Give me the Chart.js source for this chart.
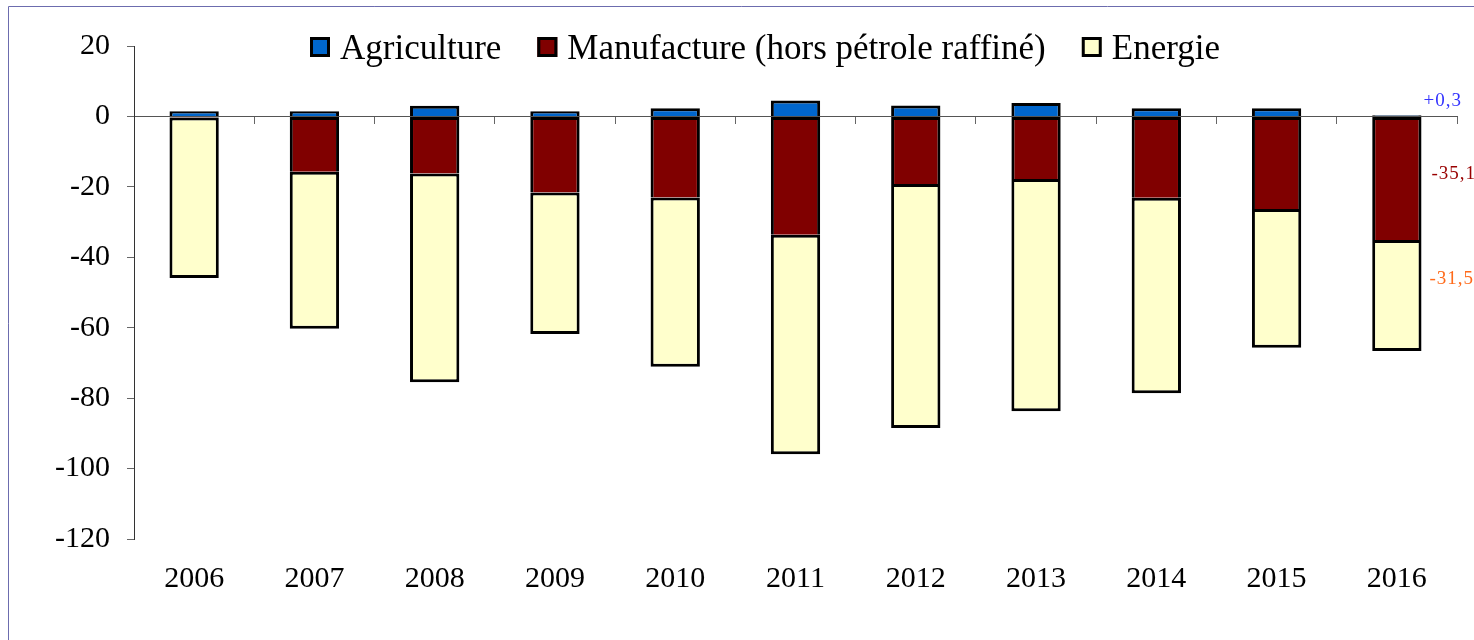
<!DOCTYPE html>
<html>
<head>
<meta charset="utf-8">
<script src="https://cdn.jsdelivr.net/npm/chart.js@4.4.1/dist/chart.umd.min.js"></script>
<style>
  html, body { margin: 0; padding: 0; background: #fff; }
  #wrap { width: 1474px; height: 640px; }
</style>
</head>
<body>
<div id="wrap"><canvas id="chart" width="1474" height="640"></canvas></div>
<script>
// values
var years = ['2006', '2007', '2008', '2009', '2010', '2011', '2012', '2013', '2014', '2015', '2016'];
var agriculture = [1.5, 1.5, 3.0, 1.5, 2.3, 4.5, 3.1, 3.8, 2.3, 2.3, 0.3];
var manufacture = [-0.3, -15.7, -16.2, -21.6, -23.0, -33.6, -19.2, -17.8, -23.1, -26.3, -35.1];
var energie = [-45.6, -44.6, -59.3, -40.2, -48.1, -62.3, -69.3, -65.9, -55.5, -39.4, -31.5];
var yTicks = [20, 0, -20, -40, -60, -80, -100, -120];

var seriesNames = ['Agriculture', 'Manufacture (hors pétrole raffiné)', 'Energie'];
var seriesColors = ['#0066cc', '#800000', '#ffffcc'];
var endLabelColors = ['#3333ff', '#990000', '#ff6a1a'];

var serif = '"Liberation Serif", "Times New Roman", serif';

function fmt(v) {
    var s = Math.abs(v).toFixed(1).replace('.', ',');
    return (v < 0 ? '-' : '+') + s;
}

// frame, legend and the values written right of the last bar
var extras = {
    id: 'extras',
    afterDraw: function(chart) {
        var ctx = chart.ctx;
        ctx.save();

        ctx.strokeStyle = '#6c6cae';
        ctx.lineWidth = 1;
        ctx.beginPath();
        ctx.moveTo(8.5, chart.height);
        ctx.lineTo(8.5, 6.5);
        ctx.lineTo(chart.width, 6.5);
        ctx.stroke();

        ctx.font = '35px ' + serif;
        ctx.textAlign = 'left';
        ctx.textBaseline = 'alphabetic';
        var x = 310;
        chart.data.datasets.forEach(function(ds) {
            ctx.fillStyle = ds.backgroundColor;
            ctx.fillRect(x, 37, 20, 20);
            ctx.lineWidth = 3;
            ctx.strokeStyle = '#000';
            ctx.strokeRect(x + 1.5, 38.5, 17, 17);
            ctx.fillStyle = '#000';
            ctx.fillText(ds.label, x + 30, 59);
            x += 30 + ctx.measureText(ds.label).width + 36;
        });

        var last = years.length - 1;
        var zeroY = chart.scales.y.getPixelForValue(0);
        ctx.font = '19px ' + serif;
        ctx.textBaseline = 'middle';
        if ('letterSpacing' in ctx) ctx.letterSpacing = '1px';
        var offsets = [null, -4, -16];
        chart.data.datasets.forEach(function(ds, k) {
            var el = chart.getDatasetMeta(k).data[last];
            var right = el.x + el.width / 2;
            var y, dx;
            if (k === 0) {
                y = zeroY - 15;
                dx = 2;
            } else {
                y = (el.y + el.base) / 2 + offsets[k];
                dx = k === 1 ? 10 : 8;
            }
            ctx.fillStyle = endLabelColors[k];
            ctx.fillText(fmt(ds.data[last]), right + dx, y);
        });
        ctx.restore();
    }
};

var ctx = document.getElementById('chart');
var chart = new Chart(ctx, {
    type: 'bar',
    data: {
        labels: years,
        datasets: [
            {
                label: seriesNames[0],
                data: agriculture,
                backgroundColor: seriesColors[0],
                borderColor: '#000',
                borderWidth: {top: 3, left: 3, right: 3, bottom: 0},
                borderSkipped: false
            },
            {
                label: seriesNames[1],
                data: manufacture,
                backgroundColor: seriesColors[1],
                borderColor: '#000',
                borderWidth: {top: 3, left: 3, right: 3, bottom: 0},
                borderSkipped: false
            },
            {
                label: seriesNames[2],
                data: energie,
                backgroundColor: seriesColors[2],
                borderColor: '#000',
                borderWidth: {top: 3, left: 3, right: 3, bottom: 3},
                borderSkipped: false
            }
        ]
    },
    options: {
        responsive: false,
        animation: false,
        barPercentage: 1,
        categoryPercentage: 0.41,
        layout: {
            padding: {top: 46, right: 17, bottom: 29, left: 0}
        },
        plugins: {
            legend: {display: false},
            tooltip: {enabled: false}
        },
        scales: {
            x: {
                stacked: true,
                offset: true,
                grid: {display: false},
                border: {display: false},
                ticks: {
                    color: '#000',
                    padding: 14,
                    font: {family: serif, size: 30}
                }
            },
            x2: {
                type: 'category',
                labels: years,
                position: {y: 0},
                offset: true,
                grid: {
                    offset: true,
                    drawOnChartArea: false,
                    tickLength: 7,
                    color: '#666'
                },
                border: {display: true, color: '#555', width: 1},
                ticks: {display: false}
            },
            y: {
                stacked: true,
                min: -120,
                max: 20,
                afterFit: function(scale) { scale.width = 134; },
                afterBuildTicks: function(scale) {
                    scale.ticks = yTicks.map(function(v) { return {value: v}; });
                },
                grid: {
                    drawOnChartArea: false,
                    tickLength: 7,
                    color: '#666'
                },
                border: {display: true, color: '#333', width: 1},
                ticks: {
                    color: '#000',
                    padding: 17,
                    font: {family: serif, size: 30}
                }
            }
        }
    },
    plugins: [extras]
});
</script>
</body>
</html>
